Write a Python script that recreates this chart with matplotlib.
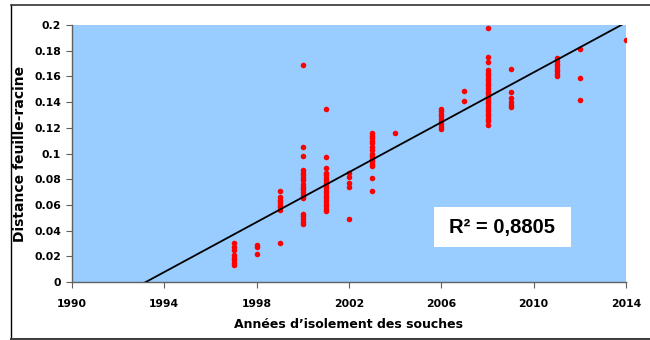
import matplotlib.pyplot as plt
import numpy as np
from matplotlib.lines import Line2D
from matplotlib.patches import Rectangle

plt.rcParams['font.family'] = ['DejaVu Sans']

# Valeurs (année, distance)
years_1997 = [0.030, 0.027, 0.025, 0.021, 0.019, 0.017, 0.015, 0.013]
years_1998 = [0.029, 0.027, 0.022]
years_1999 = [0.071, 0.066, 0.064, 0.062, 0.060, 0.058, 0.056, 0.030]
years_2000 = [0.169, 0.105, 0.098, 0.087, 0.085, 0.083, 0.081, 0.079, 0.076, 0.074,
              0.072, 0.070, 0.068, 0.066, 0.065, 0.053, 0.051, 0.049, 0.047, 0.045]
years_2001 = [0.135, 0.097, 0.0885, 0.085, 0.083, 0.081, 0.079, 0.077, 0.075, 0.073,
              0.071, 0.069, 0.067, 0.065, 0.063, 0.061, 0.059, 0.057, 0.055]
years_2002 = [0.085, 0.082, 0.077, 0.074, 0.049]
years_2003 = [0.116, 0.114, 0.112, 0.110, 0.108, 0.105, 0.103, 0.100, 0.098, 0.096,
              0.094, 0.092, 0.090, 0.081, 0.071]
years_2004 = [0.116]
years_2006 = [0.135, 0.133, 0.131, 0.129, 0.127, 0.125, 0.123, 0.121, 0.119]
years_2007 = [0.149, 0.141]
years_2008 = [0.198, 0.175, 0.171, 0.165, 0.163, 0.161, 0.159, 0.157, 0.155, 0.153,
              0.151, 0.149, 0.147, 0.145, 0.143, 0.141, 0.139, 0.137, 0.135, 0.133,
              0.131, 0.129, 0.127, 0.125, 0.122]
years_2009 = [0.166, 0.148, 0.143, 0.140, 0.138, 0.136]
years_2011 = [0.174, 0.172, 0.170, 0.168, 0.166, 0.164, 0.162, 0.160]
years_2012 = [0.181, 0.159, 0.142]
years_2014 = [0.188]

groupes = {1997: years_1997, 1998: years_1998, 1999: years_1999, 2000: years_2000,
           2001: years_2001, 2002: years_2002, 2003: years_2003, 2004: years_2004,
           2006: years_2006, 2007: years_2007, 2008: years_2008, 2009: years_2009,
           2011: years_2011, 2012: years_2012, 2014: years_2014}

# Courbe de tendance
pente = 0.00971
annee_zero = 1993.2
r2_texte = "R² = 0,8805"

x_ticks = [1990, 1994, 1998, 2002, 2006, 2010, 2014]
y_ticks = [0, 0.02, 0.04, 0.06, 0.08, 0.1, 0.12, 0.14, 0.16, 0.18, 0.2]
y_labels = ["0", "0.02", "0.04", "0.06", "0.08", "0.1", "0.12", "0.14", "0.16", "0.18", "0.2"]

x = np.concatenate([[a] * len(v) for a, v in groupes.items()])
y = np.concatenate([v for v in groupes.values()])

fig = plt.figure(figsize=(6.5, 3.4), dpi=100)
ax = fig.add_axes([72 / 650, 58 / 340, 554 / 650, 257 / 340])
ax.set_facecolor('#99CCFF')

ax.scatter(x, y, s=16, color='#FF0000', zorder=3, linewidths=0)

xl = np.array([1990, 2014])
ax.plot(xl, pente * (xl - annee_zero), color='black', lw=1.3, zorder=4)

ax.set_xlim(1990, 2014)
ax.set_ylim(0, 0.2)
ax.set_xticks(x_ticks)
ax.set_yticks(y_ticks)
ax.set_yticklabels(y_labels)
for s in ['top', 'right']:
    ax.spines[s].set_visible(False)
for s in ['left', 'bottom']:
    ax.spines[s].set_color('#606060')
    ax.spines[s].set_linewidth(1)
ax.tick_params(direction='out', length=4, color='#606060', labelsize=7.8)
ax.tick_params(axis='x', pad=8)
ax.tick_params(axis='y', pad=4)
for lab in ax.get_xticklabels() + ax.get_yticklabels():
    lab.set_fontweight('bold')

ax.set_xlabel("Années d’isolement des souches", fontsize=9, fontweight='bold', labelpad=7)
ax.set_ylabel("Distance feuille-racine", fontsize=10, fontweight='bold', labelpad=5)

# Encadré R²
ax.add_patch(Rectangle((0.653, 0.136), 0.247, 0.156, transform=ax.transAxes,
                       facecolor='white', edgecolor='none', zorder=5))
ax.text(0.777, 0.214, r2_texte, transform=ax.transAxes, ha='center', va='center',
        fontsize=14.5, fontweight='bold', zorder=6, family='Liberation Sans')

# Cadre
fig.add_artist(Line2D([11 / 650, 11 / 650], [2 / 340, 335 / 340], color='black', lw=1,
                      transform=fig.transFigure))
fig.add_artist(Line2D([11 / 650, 1], [335 / 340, 335 / 340], color='#333333', lw=1.2,
                      transform=fig.transFigure))
fig.add_artist(Line2D([11 / 650, 1], [1.5 / 340, 1.5 / 340], color='#404040', lw=2.2,
                      transform=fig.transFigure))

fig.savefig('out.png', dpi=100)
